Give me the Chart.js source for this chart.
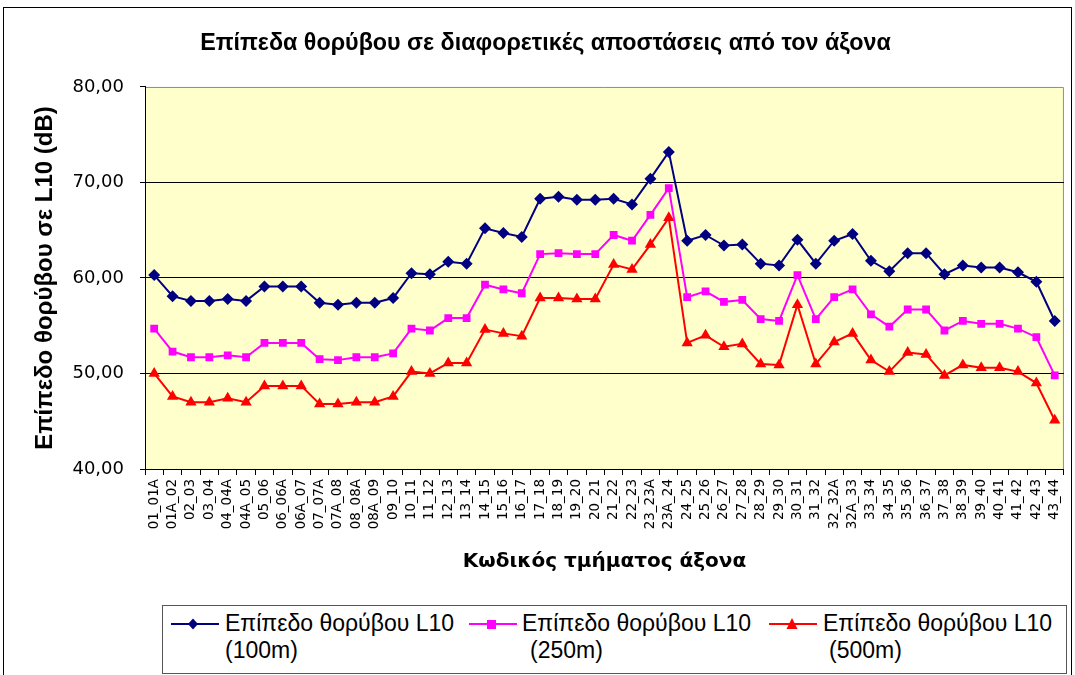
<!DOCTYPE html>
<html>
<head>
<meta charset="utf-8">
<script src="https://cdn.jsdelivr.net/npm/chart.js@4/dist/chart.umd.min.js"></script>
<style>
  html, body { margin: 0; padding: 0; background: #fff; }
  #wrap { position: relative; width: 1075px; height: 675px; overflow: hidden; font-family: Arial, "Liberation Sans", sans-serif; }
  #frame { position: absolute; left: 3px; top: 7px; width: 1069px; height: 680px; border: 1px solid #000; box-sizing: border-box; }
  #chartBox { position: absolute; left: 0; top: 0; width: 1075px; height: 600px; }
  #legend { position: absolute; left: 162px; top: 605px; width: 905px; height: 69px; border: 1px solid #555; box-sizing: border-box; background: #fff; }
  .item { position: absolute; top: 0; font-size: 23px; line-height: 27px; color: #000; }
  .item svg { position: absolute; left: 0; top: 10px; }
  .item .txt { position: absolute; white-space: nowrap; }
</style>
</head>
<body>
<div id="wrap">
  <div id="frame"></div>
  <div id="chartBox"><canvas id="noiseChart" width="1075" height="600"></canvas></div>
  <div id="legend"></div>
</div>
<script>
const categories = [
  '01_01A', '01A_02', '02_03', '03_04', '04_04A', '04A_05', '05_06', '06_06A', '06A_07', '07_07A',
  '07A_08', '08_08A', '08A_09', '09_10', '10_11', '11_12', '12_13', '13_14', '14_15', '15_16',
  '16_17', '17_18', '18_19', '19_20', '20_21', '21_22', '22_23', '23_23A', '23A_24', '24_25',
  '25_26', '26_27', '27_28', '28_29', '29_30', '30_31', '31_32', '32_32A', '32A_33', '33_34',
  '34_35', '35_36', '36_37', '37_38', '38_39', '39_40', '40_41', '41_42', '42_43', '43_44'
];

const l10_100m = [
  60.3, 58.1, 57.6, 57.6, 57.8, 57.6, 59.1, 59.1, 59.1, 57.4,
  57.2, 57.4, 57.4, 57.9, 60.5, 60.4, 61.7, 61.5, 65.2, 64.7,
  64.3, 68.3, 68.5, 68.2, 68.2, 68.3, 67.7, 70.4, 73.2, 63.9,
  64.5, 63.4, 63.5, 61.5, 61.3, 64.0, 61.5, 63.9, 64.6, 61.8,
  60.7, 62.6, 62.6, 60.4, 61.3, 61.1, 61.1, 60.6, 59.6, 55.5
];

const l10_250m = [
  54.7, 52.3, 51.7, 51.7, 51.9, 51.7, 53.2, 53.2, 53.2, 51.5,
  51.4, 51.7, 51.7, 52.1, 54.7, 54.5, 55.8, 55.8, 59.3, 58.8,
  58.4, 62.5, 62.6, 62.5, 62.5, 64.5, 63.9, 66.6, 69.4, 58.0,
  58.6, 57.5, 57.7, 55.7, 55.5, 60.3, 55.7, 58.0, 58.8, 56.2,
  54.9, 56.7, 56.7, 54.5, 55.5, 55.2, 55.2, 54.7, 53.8, 49.8
];

const l10_500m = [
  50.0, 47.6, 47.0, 47.0, 47.4, 47.0, 48.7, 48.7, 48.7, 46.8,
  46.8, 47.0, 47.0, 47.6, 50.2, 50.0, 51.1, 51.1, 54.6, 54.2,
  53.9, 57.9, 57.9, 57.8, 57.8, 61.4, 60.9, 63.5, 66.3, 53.2,
  54.0, 52.8, 53.1, 51.0, 50.9, 57.2, 51.0, 53.3, 54.2, 51.4,
  50.2, 52.2, 52.0, 49.8, 50.9, 50.6, 50.6, 50.2, 49.0, 45.1
];

const yTicks = { min: 40, max: 80, step: 10 };

const seriesDefs = [
  { label: 'Επίπεδο θορύβου L10 (100m)', data: l10_100m, color: '#000080', style: 'rectRot', radius: 6, legendX: 8, textX: 54, line2: '(100m)', line2X: 54 },
  { label: 'Επίπεδο θορύβου L10 (250m)', data: l10_250m, color: '#FF00FF', style: 'rect', radius: 5.5, legendX: 306, textX: 53, line2: '(250m)', line2X: 61 },
  { label: 'Επίπεδο θορύβου L10 (500m)', data: l10_500m, color: '#FF0000', style: 'triangle', radius: 6.5, legendX: 606, textX: 54, line2: '(500m)', line2X: 60 }
];

// yellow plot background + grey top/right edges
const plotBg = {
  id: 'plotBg',
  beforeDraw(chart) {
    const { ctx, chartArea: a } = chart;
    ctx.save();
    ctx.fillStyle = '#FFFFCC';
    ctx.fillRect(a.left, a.top, a.right - a.left, a.bottom - a.top);
    ctx.strokeStyle = '#8c8c8c';
    ctx.lineWidth = 1;
    ctx.beginPath();
    ctx.moveTo(a.left, a.top + 0.5);
    ctx.lineTo(a.right - 0.5, a.top + 0.5);
    ctx.lineTo(a.right - 0.5, a.bottom);
    ctx.stroke();
    ctx.restore();
  }
};

function buildLegend() {
  const box = document.getElementById('legend');
  seriesDefs.forEach(s => {
    const el = document.createElement('div');
    el.className = 'item';
    el.style.left = s.legendX + 'px';
    let marker = '';
    if (s.style === 'rectRot') marker = '<polygon points="22,2.5 27,8 22,13.5 17,8" fill="' + s.color + '"/>';
    if (s.style === 'rect') marker = '<rect x="18" y="4" width="9" height="9" fill="' + s.color + '"/>';
    if (s.style === 'triangle') marker = '<polygon points="23,2 28.5,13 17.5,13" fill="' + s.color + '"/>';
    el.innerHTML =
      '<svg width="48" height="16"><line x1="0" y1="8" x2="48" y2="8" stroke="' + s.color + '" stroke-width="2"/>' + marker + '</svg>' +
      '<span class="txt" style="left:' + s.textX + 'px;top:4px">Επίπεδο θορύβου L10</span>' +
      '<span class="txt" style="left:' + s.line2X + 'px;top:31px">' + s.line2 + '</span>';
    box.appendChild(el);
  });
}

function initChart() {
  const ctx = document.getElementById('noiseChart').getContext('2d');
  new Chart(ctx, {
    type: 'line',
    data: {
      labels: categories,
      datasets: seriesDefs.map(s => ({
        label: s.label,
        data: s.data,
        borderColor: s.color,
        backgroundColor: s.color,
        borderWidth: 2,
        pointStyle: s.style,
        pointRadius: s.radius,
        pointBorderWidth: 0,
        tension: 0
      }))
    },
    options: {
      responsive: false,
      animation: false,
      layout: { padding: { left: 20, right: 4, top: 0, bottom: 21 } },
      plugins: {
        legend: { display: false },
        tooltip: { enabled: false },
        title: {
          display: true,
          text: 'Επίπεδα θορύβου σε διαφορετικές αποστάσεις από τον άξονα',
          color: '#000',
          font: { family: 'Arial', size: 23.3, weight: 'bold' },
          padding: { top: 30, bottom: 29 }
        }
      },
      scales: {
        x: {
          offset: true,
          afterFit: s => { s.height = 110; },
          border: { color: '#000', width: 1 },
          grid: { offset: true, drawOnChartArea: false, drawTicks: true, tickLength: 6, color: '#000' },
          ticks: {
            autoSkip: false, maxRotation: 90, minRotation: 90, padding: 4,
            color: '#000', font: { family: 'DejaVu Sans', size: 13.5 }
          },
          title: {
            display: true, text: 'Κωδικός τμήματος άξονα', color: '#000',
            font: { family: 'DejaVu Sans', size: 20, weight: 'bold' },
            padding: { top: 0, bottom: 5 }
          }
        },
        y: {
          min: yTicks.min, max: yTicks.max,
          afterFit: s => { s.width = 125; },
          border: { color: '#000', width: 1 },
          grid: {
            color: c => (c.tick && c.tick.value === yTicks.max) ? 'rgba(0,0,0,0)' : '#000',
            tickColor: '#000', tickLength: 5
          },
          ticks: {
            stepSize: yTicks.step, padding: 16, color: '#000',
            font: { family: 'DejaVu Sans', size: 18 },
            callback: v => v.toFixed(2).replace('.', ',')
          },
          title: {
            display: true, text: 'Επίπεδο θορύβου σε L10 (dB)', color: '#000',
            font: { family: 'Arial', size: 24, weight: 'bold' },
            padding: { top: 10.6, bottom: 0 }
          }
        }
      }
    },
    plugins: [plotBg]
  });
}

document.addEventListener('DOMContentLoaded', () => {
  buildLegend();
  initChart();
});
</script>
</body>
</html>
